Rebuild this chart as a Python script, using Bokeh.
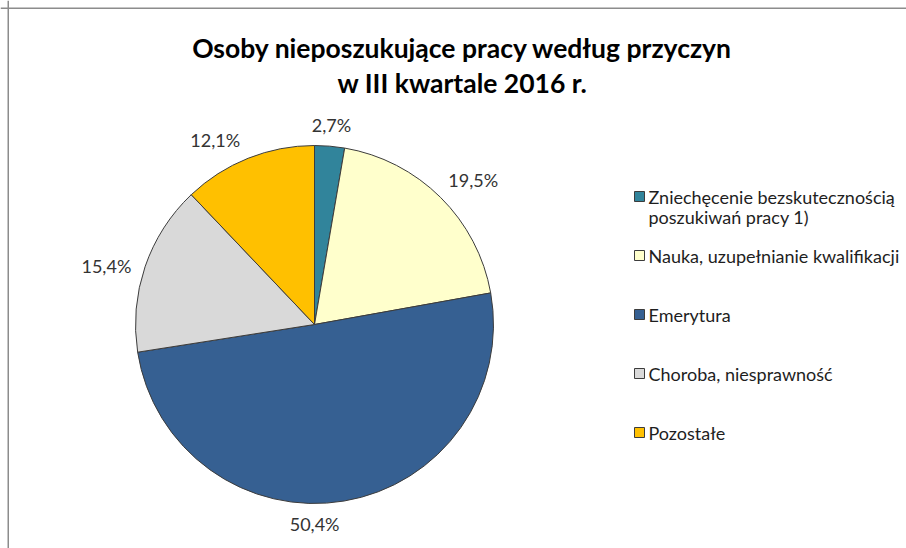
import math
from bokeh.plotting import figure
from bokeh.models import Range1d, ColumnDataSource, Span
from bokeh.core.properties import value
from bokeh.embed import file_html
from bokeh.resources import INLINE

# ---- data ----
title_lines = ["Osoby nieposzukujące pracy według przyczyn", "w III kwartale 2016 r."]
categories = [
    "Zniechęcenie bezskutecznością\nposzukiwań pracy 1)",
    "Nauka, uzupełnianie kwalifikacji",
    "Emerytura",
    "Choroba, niesprawność",
    "Pozostałe",
]
shares = [2.7, 19.5, 50.4, 15.4, 12.1]
share_labels = ["2,7%", "19,5%", "50,4%", "15,4%", "12,1%"]
colors = ["#31849B", "#FFFFCC", "#366092", "#D9D9D9", "#FFC000"]

# ---- layout / style ----
FONT = "Lato"
W, H = 906, 548
CX, CY, R = 314, 224, 179
label_nudge_deg = [0, -3, -9.5, 3, 6.5]
LABEL_FS = 18

p = figure(width=W, height=H, x_range=Range1d(0, W), y_range=Range1d(0, H),
           output_backend="svg", toolbar_location=None, min_border=0,
           x_axis_type=None, y_axis_type=None)
p.grid.visible = False
p.outline_line_color = None
p.background_fill_color = "white"
p.border_fill_color = "white"

# chart-area border (top and left visible)
p.add_layout(Span(location=7.75, dimension="height", line_color="#8c8c8c", line_width=1.5))
p.add_layout(Span(location=H - 7.75, dimension="width", line_color="#8c8c8c", line_width=1.5))

# ---- pie ----
total = sum(shares)
starts, ends, mids = [], [], []
cum = 0.0
for s in shares:
    a0 = math.pi / 2 - 2 * math.pi * cum / total
    cum += s
    a1 = math.pi / 2 - 2 * math.pi * cum / total
    starts.append(a0)
    ends.append(a1)
    mids.append((a0 + a1) / 2)

src = ColumnDataSource(dict(start=starts, end=ends, color=colors))
p.wedge(x=CX, y=CY, radius=R, start_angle="start", end_angle="end",
        direction="clock", fill_color="color", line_color="#3c3c3c",
        line_width=1, source=src)

# ---- data labels ----
lx, ly = [], []
for lab, m, nd in zip(share_labels, mids, label_nudge_deg):
    a = m + math.radians(nd)
    c, s = math.cos(a), math.sin(a)
    hw = len(lab) * 0.55 * LABEL_FS / 2
    hh = 9
    d = R + 11 + hw * abs(c) + hh * abs(s)
    lx.append(CX + d * c)
    ly.append(CY + d * s)
p.text(x=lx, y=ly, text=share_labels, text_font=value(FONT),
       text_font_size=f"{LABEL_FS}px", text_color="#333333",
       text_align="center", text_baseline="middle")

# ---- title ----
p.text(x=[462, 462], y=[H - 47, H - 82], text=title_lines, text_font=value(FONT),
       text_font_size="26.5px", text_font_style="bold", text_color="#000000",
       text_align="center", text_baseline="middle")

# ---- legend ----
LEG_X, LEG_Y0, LEG_DY, LINE_H = 639, H - 196, 59, 20.5
mk_y = [LEG_Y0 - i * LEG_DY for i in range(len(categories))]
p.rect(x=[LEG_X] * len(categories), y=mk_y, width=10, height=10,
       fill_color=colors, line_color="#3c3c3c", line_width=1)
tx, ty, tt = [], [], []
for yy, cat in zip(mk_y, categories):
    for j, line in enumerate(cat.split("\n")):
        tx.append(LEG_X + 9)
        ty.append(yy - j * LINE_H)
        tt.append(line)
p.text(x=tx, y=ty, text=tt, text_font=value(FONT), text_font_size=f"{LABEL_FS}px",
       text_color="#1e1e1e", text_align="left", text_baseline="middle")

open("out.html", "w").write(file_html(p, INLINE))
